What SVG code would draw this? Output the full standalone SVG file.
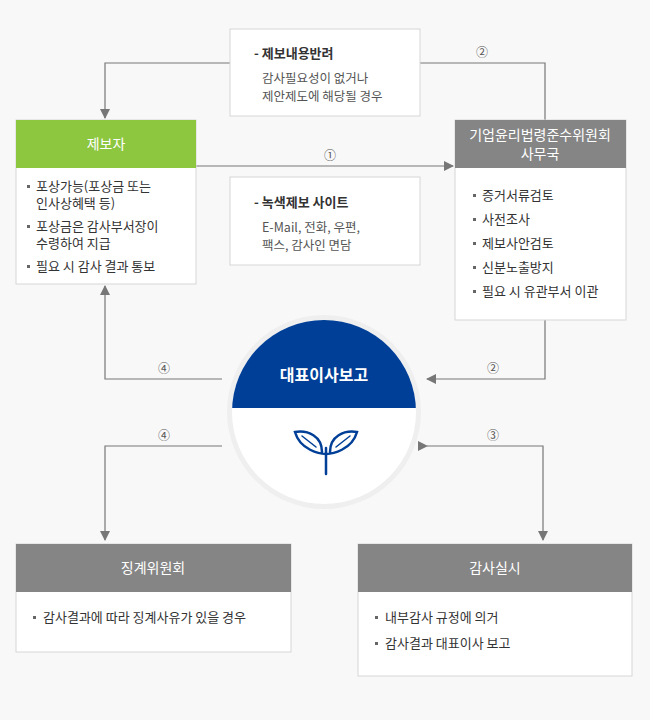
<svg xmlns="http://www.w3.org/2000/svg" width="650" height="720" viewBox="0 0 650 720">
<style>
text{font-family:"Noto Sans CJK KR","Noto Sans",sans-serif;}
.box{fill:#fff;stroke:#d6d6d6;stroke-width:1}
.hd{fill:#fff;font-size:14px;text-anchor:middle}
.it{fill:#333;font-size:13px}
.sm{fill:#555;font-size:12.5px}
.bl{fill:#666}
.ln{fill:none;stroke:#777;stroke-width:1.2}
.num{fill:#555;font-size:12px;text-anchor:middle}
</style>
<defs><marker id="a" markerWidth="10" markerHeight="10" refX="9" refY="5" orient="auto" markerUnits="userSpaceOnUse"><path d="M0,0L10,5L0,10z" fill="#777"/></marker></defs>
<rect width="650" height="720" fill="#f8f8f8"/>
<g id="connectors">
<path class="ln" d="M230,63H105V118" marker-end="url(#a)"/>
<path class="ln" d="M420,63H545V120"/>
<path class="ln" d="M196,166H453" marker-end="url(#a)"/>
<path class="ln" d="M222,379H105V286" marker-end="url(#a)"/>
<path class="ln" d="M545,320V379H427" marker-end="url(#a)"/>
<path class="ln" d="M222,446H105V540" marker-end="url(#a)"/>
<path class="ln" d="M427,446H543V540" marker-start="url(#a)" marker-end="url(#a)"/>
<text class="num" x="482" y="57">②</text>
<text class="num" x="330" y="160">①</text>
<text class="num" x="164" y="373">④</text>
<text class="num" x="493" y="373">②</text>
<text class="num" x="164" y="440">④</text>
<text class="num" x="493" y="440">③</text>
</g>
<g id="note1"><rect class="box" x="230" y="29" width="190" height="87"/>
<text class="it" x="254" y="58" font-weight="bold">- 제보내용반려</text>
<text class="sm" x="262" y="83">감사필요성이 없거나</text><text class="sm" x="262" y="101">제안제도에 해당될 경우</text></g>
<g id="note2"><rect class="box" x="230" y="177" width="190" height="88"/>
<text class="it" x="254" y="207" font-weight="bold">- 녹색제보 사이트</text>
<text class="sm" x="262" y="232">E-Mail, 전화, 우편,</text><text class="sm" x="262" y="250">팩스, 감사인 면담</text></g>
<g id="reporter"><rect class="box" x="16" y="120" width="180" height="164"/><rect x="16" y="120" width="180" height="48" fill="#8dc63f"/>
<text class="hd" x="106" y="149">제보자</text>
<rect class="bl" x="27" y="185" width="3" height="3"/><rect class="bl" x="27" y="225" width="3" height="3"/><rect class="bl" x="27" y="265" width="3" height="3"/>
<g class="it"><text x="36" y="191">포상가능(포상금 또는</text><text x="36" y="208">인사상혜택 등)</text>
<text x="36" y="231">포상금은 감사부서장이</text><text x="36" y="248">수령하여 지급</text>
<text x="36" y="271">필요 시 감사 결과 통보</text></g></g>
<g id="office"><rect class="box" x="455" y="120" width="171" height="200"/><rect x="455" y="120" width="171" height="48" fill="#858585"/>
<text class="hd" x="540" y="140">기업윤리법령준수위원회</text><text class="hd" x="540" y="159">사무국</text>
<rect class="bl" x="473" y="194" width="3" height="3"/><rect class="bl" x="473" y="218" width="3" height="3"/><rect class="bl" x="473" y="242" width="3" height="3"/><rect class="bl" x="473" y="266" width="3" height="3"/><rect class="bl" x="473" y="290" width="3" height="3"/>
<g class="it"><text x="482" y="200">증거서류검토</text>
<text x="482" y="224">사전조사</text>
<text x="482" y="248">제보사안검토</text>
<text x="482" y="272">신분노출방지</text>
<text x="482" y="296">필요 시 유관부서 이관</text></g></g>
<g id="ceo"><circle cx="324" cy="412" r="97" fill="#efefef"/>
<clipPath id="c"><circle cx="324" cy="412" r="92"/></clipPath>
<g clip-path="url(#c)"><rect x="230" y="318" width="190" height="190" fill="#fff"/><rect x="230" y="318" width="190" height="90" fill="#003f97"/></g>
<text x="324" y="381" fill="#fff" font-size="16" font-weight="bold" text-anchor="middle">대표이사보고</text>
<g fill="none" stroke="#003f97" stroke-width="2.5" stroke-linecap="round">
<path d="M326,474V448"/><path d="M326,454C320,454 300,450 295,432C308,430 322,436 322,452"/><path d="M326,454C332,454 352,450 357,432C344,430 330,436 330,452"/>
<path d="M302,436L316,447M350,436L336,447" stroke-width="1.5"/></g></g>
<g id="committee"><rect class="box" x="16" y="544" width="275" height="108"/><rect x="16" y="544" width="275" height="48" fill="#858585"/>
<text class="hd" x="153" y="573">징계위원회</text>
<rect class="bl" x="33" y="616" width="3" height="3"/><text class="it" x="43" y="622">감사결과에 따라 징계사유가 있을 경우</text></g>
<g id="audit"><rect class="box" x="358" y="544" width="274" height="132"/><rect x="358" y="544" width="274" height="48" fill="#858585"/>
<text class="hd" x="495" y="573">감사실시</text>
<rect class="bl" x="375" y="616" width="3" height="3"/><text class="it" x="385" y="622">내부감사 규정에 의거</text>
<rect class="bl" x="375" y="642" width="3" height="3"/><text class="it" x="385" y="648">감사결과 대표이사 보고</text></g>
</svg>
